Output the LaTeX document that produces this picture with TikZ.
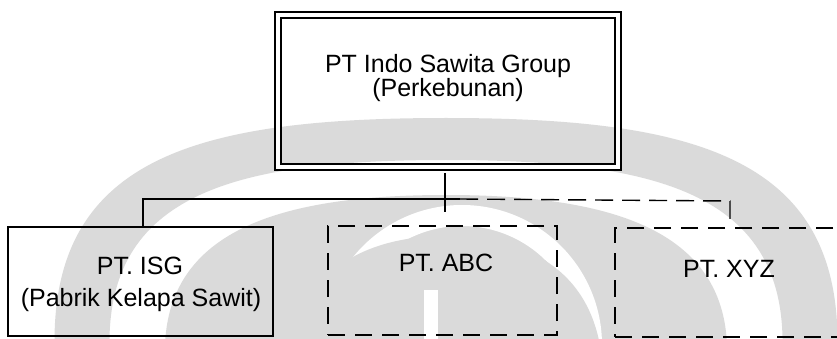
\documentclass[tikz,border=0pt]{standalone}
\usepackage{fontspec}
\setmainfont{Liberation Sans}
\definecolor{wm}{RGB}{218,218,218}
\begin{document}
\begin{tikzpicture}[x=1pt,y=-1pt,
  solidbox/.style={draw, line width=2.2pt, inner sep=0pt},
  dashbox/.style={draw, line width=2.8pt, dash pattern=on 17pt off 10pt, inner sep=0pt},
  conn/.style={line width=1.4pt},
  dconn/.style={conn, dash pattern=on 18pt off 9pt},
  lbl/.style={font=\fontsize{25}{25}\selectfont, inner sep=0pt, anchor=base},
]
\useasboundingbox (0,0) rectangle (837,339);
\clip (0,0) rectangle (837,339);
% watermark (approximate)
\fill[wm, even odd rule]
  (55,360) .. controls (45,160) and (190,118) .. (446,118) .. controls (702,118) and (847,160) .. (837,360) -- cycle
  (110,360) .. controls (100,195) and (230,160) .. (446,160) .. controls (662,160) and (792,195) .. (782,360) -- cycle;
\fill[wm]
  (165,360) .. controls (160,230) and (280,195) .. (446,195) .. controls (612,195) and (732,230) .. (727,360) -- cycle;
\fill[white, even odd rule] (462,345) circle[radius=140pt] (462,345) circle[radius=119pt];
\fill[wm] (290,360) .. controls (300,260) and (380,236) .. (446,236) .. controls (512,236) and (592,260) .. (602,360) -- cycle;
\fill[white] (424,290) rectangle (438,345);
% boxes
\node[draw, double, double distance=4pt, line width=2pt, minimum width=340pt, minimum height=152pt, inner sep=0pt] (top) at (448,91) {};
\node[solidbox, minimum width=265pt, minimum height=109pt] (isg) at (140.5,281.5) {};
\node[dashbox, minimum width=229pt, minimum height=109pt] (abc) at (442.5,280.5) {};
\node[dashbox, minimum width=230pt, minimum height=109pt] (xyz) at (730,282.5) {};
% texts
\node[lbl] (t1) at (448,73) {PT Indo Sawita Group};
\node[lbl] (t2) at (448,97) {(Perkebunan)};
\node[lbl] (isg1) at (140,274) {PT. ISG};
\node[lbl] (isg2) at (141,306.5) {(Pabrik Kelapa Sawit)};
\node[lbl] (abc1) at (446,271.5) {PT. ABC};
\node[lbl] (xyz1) at (729,277) {PT. XYZ};
% connectors
\coordinate (l0) at (143,199);
\coordinate (j0) at (445,199);
\coordinate (m0) at (460,199);
\coordinate (r0) at (730,201);
\coordinate (stub) at (445,212);
\draw[conn] ([yshift=-5pt]top.south -| j0) -- (stub);
\draw[conn] (isg.north -| l0) -- (l0) -- (m0);
\draw[dconn] (m0) -- (r0) -- (xyz.north -| r0);
\end{tikzpicture}
\end{document}
